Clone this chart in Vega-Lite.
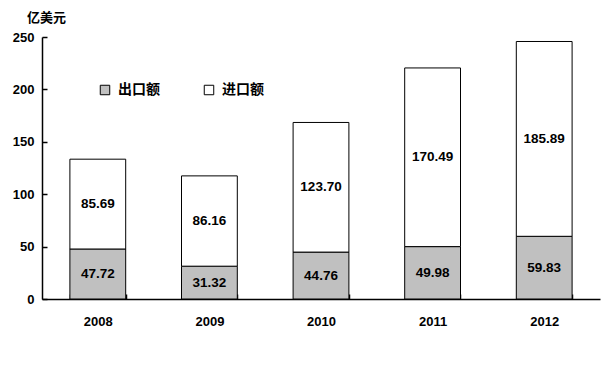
{
  "$schema": "https://vega.github.io/schema/vega-lite/v6.json",
  "width": 558,
  "height": 262,
  "autosize": {"type": "none"},
  "padding": {"left": 42, "top": 37, "right": 4, "bottom": 73},
  "background": "white",
  "config": {"view": {"stroke": null}},
  "data": {"values": [
    {"year": "2008", "type": "出口额", "k": 1, "value": 47.72},
    {"year": "2008", "type": "进口额", "k": 2, "value": 85.69},
    {"year": "2009", "type": "出口额", "k": 1, "value": 31.32},
    {"year": "2009", "type": "进口额", "k": 2, "value": 86.16},
    {"year": "2010", "type": "出口额", "k": 1, "value": 44.76},
    {"year": "2010", "type": "进口额", "k": 2, "value": 123.70},
    {"year": "2011", "type": "出口额", "k": 1, "value": 49.98},
    {"year": "2011", "type": "进口额", "k": 2, "value": 170.49},
    {"year": "2012", "type": "出口额", "k": 1, "value": 59.83},
    {"year": "2012", "type": "进口额", "k": 2, "value": 185.89}
  ]},
  "transform": [
    {"stack": "value", "groupby": ["year"], "sort": [{"field": "k", "order": "ascending"}], "as": ["y0", "y1"]},
    {"calculate": "(datum.y0 + datum.y1) / 2", "as": "ymid"}
  ],
  "encoding": {
    "x": {
      "field": "year", "type": "nominal",
      "scale": {"paddingInner": 0.5, "paddingOuter": 0.25},
      "axis": {
        "title": null, "labelAngle": 0, "labelFont": "Liberation Sans", "labelFontWeight": "bold",
        "labelFontSize": 13, "labelColor": "black", "labelPadding": 21,
        "domainColor": "black", "domainWidth": 1.5, "tickBand": "extent",
        "tickColor": "black", "tickSize": -5, "tickWidth": 1.5
      }
    }
  },
  "layer": [
    {
      "mark": {"type": "bar", "stroke": "black", "strokeWidth": 1},
      "encoding": {
        "y": {
          "field": "y0", "type": "quantitative",
          "scale": {"domain": [0, 250], "nice": false},
          "axis": {
            "title": "亿美元", "titleAngle": 0, "titleX": 4, "titleY": -20,
            "titleAlign": "center", "titleBaseline": "middle",
            "titleFont": "Noto Sans CJK SC", "titleFontSize": 13, "titleFontWeight": "bold", "titleColor": "black",
            "values": [0, 50, 100, 150, 200, 250], "grid": false,
            "labelFont": "Liberation Sans", "labelFontWeight": "bold", "labelFontSize": 13, "labelColor": "black",
            "labelPadding": 13,
            "domainColor": "black", "domainWidth": 1.5,
            "tickColor": "black", "tickSize": -5, "tickWidth": 1.5
          }
        },
        "y2": {"field": "y1"},
        "fill": {
          "field": "type", "type": "nominal",
          "scale": {"domain": ["出口额", "进口额"], "range": ["#c0c0c0", "#ffffff"]},
          "legend": {
            "title": null, "orient": "none", "direction": "horizontal",
            "legendX": 56, "legendY": 46,
            "symbolType": "square", "symbolSize": 90, "symbolStrokeColor": "black", "symbolStrokeWidth": 1,
            "labelFont": "Noto Sans CJK SC", "labelFontSize": 14, "labelFontWeight": "bold", "labelColor": "black",
            "labelOffset": 6, "columnPadding": 42
          }
        }
      }
    },
    {
      "mark": {"type": "text", "font": "Liberation Sans", "fontWeight": "bold", "fontSize": 13.5, "color": "black", "baseline": "middle"},
      "encoding": {
        "y": {"field": "ymid", "type": "quantitative"},
        "text": {"field": "value", "type": "quantitative", "format": ".2f"}
      }
    }
  ]
}
